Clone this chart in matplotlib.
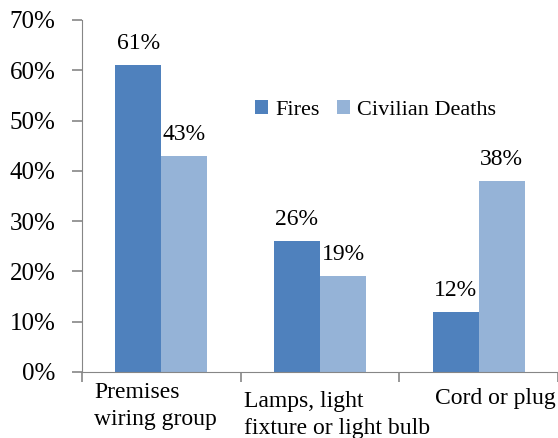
import matplotlib.pyplot as plt
import numpy as np

plt.rcParams['font.family'] = ['Liberation Serif', 'DejaVu Serif']

categories = ["Premises\nwiring group", "Lamps, light\nfixture or light bulb", "Cord or plug"]
fires = [61, 26, 12]
deaths = [43, 19, 38]
series_names = ["Fires", "Civilian Deaths"]
y_ticks = [0, 10, 20, 30, 40, 50, 60, 70]

# label placement tweaks (x shift in category units, y in pixels below axis)
label_dx = [-0.035, 0.11, 0.105]
label_dy = [-10, -19, -16]

fig = plt.figure(figsize=(5.58, 4.38), dpi=100)
ax = fig.add_axes([82 / 558, 1 - 372 / 438, 1 - 82 / 558, 352 / 438])

x = np.arange(len(categories))
w = 0.29
b1 = ax.bar(x - w / 2, fires, w, color="#4F81BD", label=series_names[0])
b2 = ax.bar(x + w / 2, deaths, w, color="#95B3D7", label=series_names[1])

for bars, vals in ((b1, fires), (b2, deaths)):
    for r, v in zip(bars, vals):
        ax.annotate(f"{v}%", (r.get_x() + r.get_width() / 2, v), xytext=(0, 8),
                    textcoords="offset points", ha="center", va="bottom", fontsize=17)

ax.set_ylim(0, 70)
ax.set_xlim(-0.5, len(categories) - 0.5)
ax.set_yticks(y_ticks)
ax.set_yticklabels([f"{t}%" for t in y_ticks], fontsize=18)
ax.set_xticks(np.arange(len(categories) + 1) - 0.5)
ax.set_xticklabels([])

for i, c in enumerate(categories):
    ax.annotate(c, (i + label_dx[i], 0), xycoords="data", xytext=(0, label_dy[i]),
                textcoords="offset pixels", ha="center", va="top", linespacing=1.38,
                multialignment="left", fontsize=17, annotation_clip=False)

for s in ("top", "right"):
    ax.spines[s].set_visible(False)
for s in ("left", "bottom"):
    ax.spines[s].set_color("#868686")
ax.tick_params(axis="both", colors="#868686", length=7, width=1.2, labelcolor="black")
ax.tick_params(axis="y", pad=12)

ax.legend(loc="upper left", bbox_to_anchor=(0.34, 0.805), ncol=2, frameon=False,
          fontsize=16, handlelength=0.6, handleheight=0.6, handletextpad=0.3,
          columnspacing=0.8, borderpad=0)

fig.savefig("out.png", dpi=100)
